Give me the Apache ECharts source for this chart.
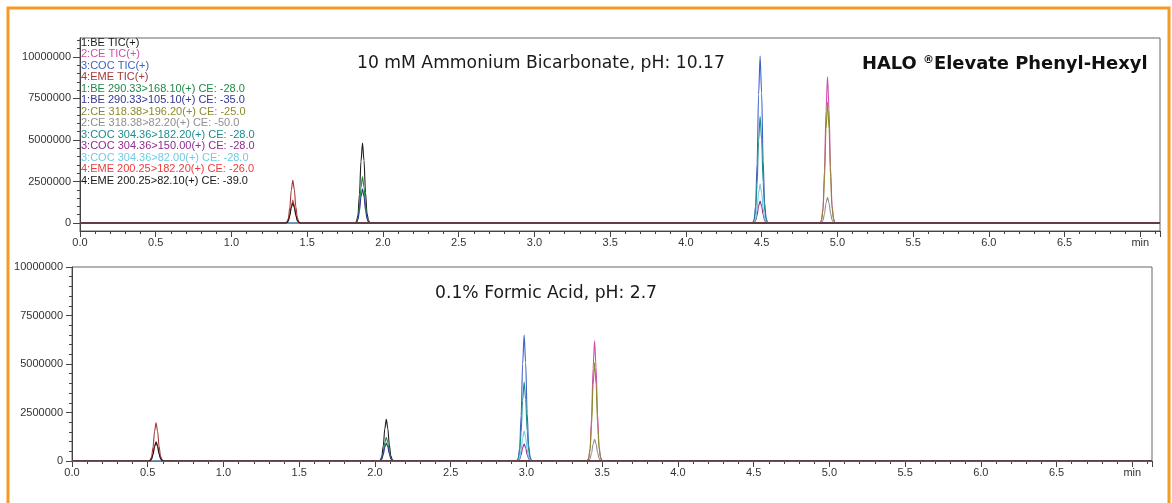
<!DOCTYPE html>
<html>
<head>
<meta charset="utf-8">
<script src="https://cdn.jsdelivr.net/npm/echarts@6.0.0/dist/echarts.min.js"></script>
<style>
  html, body { margin:0; padding:0; background:#fff; }
  #chart { width:1172px; height:503px; }
</style>
</head>
<body>
<div id="chart"></div>
<script>
/* HALO Elevate Phenyl-Hexyl – MRM chromatograms at high and low pH */

// --- trace names (legend order) and line colours
const traceNames = [
  "1:BE TIC(+)", "2:CE TIC(+)", "3:COC TIC(+)", "4:EME TIC(+)",
  "1:BE 290.33>168.10(+) CE: -28.0", "1:BE 290.33>105.10(+) CE: -35.0",
  "2:CE 318.38>196.20(+) CE: -25.0", "2:CE 318.38>82.20(+) CE: -50.0",
  "3:COC 304.36>182.20(+) CE: -28.0", "3:COC 304.36>150.00(+) CE: -28.0",
  "3:COC 304.36>82.00(+) CE: -28.0",
  "4:EME 200.25>182.20(+) CE: -26.0", "4:EME 200.25>82.10(+) CE: -39.0"
];
const traceColors = [
  "#1c1c1c", "#d24fae", "#3e62c8", "#a3393b",
  "#1f8a45", "#34368f", "#8c8a2a", "#8f8f8f",
  "#1d8b8b", "#8e2c91", "#6fcbe6", "#ee3b3b", "#161616"
];
// which compound each trace belongs to (picks its time array)
const traceCompound = ["BE", "CE", "COC", "EME", "BE", "BE", "CE", "CE", "COC", "COC", "COC", "EME", "EME"];

// --- y tick labels
const abMajorTicks = [0, 2500000, 5000000, 7500000, 10000000];
const abMinorTicks = [0, 500000, 1000000, 1500000, 2000000, 2500000, 3000000, 3500000, 4000000,
  4500000, 5000000, 5500000, 6000000, 6500000, 7000000, 7500000, 8000000, 8500000, 9000000,
  9500000, 10000000, 10500000, 11000000];

// ===== 10 mM Ammonium Bicarbonate, pH 10.17 (top) =====
const abTimeBE  = [0, 1.815, 1.825, 1.835, 1.845, 1.855, 1.865, 1.875, 1.885, 1.895, 1.905, 1.915, 7.13];
const abTimeCE  = [0, 4.885, 4.895, 4.905, 4.915, 4.925, 4.935, 4.945, 4.955, 4.965, 4.975, 4.985, 7.13];
const abTimeCOC = [0, 4.440, 4.450, 4.460, 4.470, 4.480, 4.490, 4.500, 4.510, 4.520, 4.530, 4.540, 7.13];
const abTimeEME = [0, 1.355, 1.365, 1.375, 1.385, 1.395, 1.405, 1.415, 1.425, 1.435, 1.445, 1.455, 7.13];

const abBeTic  = [0, 0, 96000, 482000, 1735000, 3711000, 4820000, 3760000, 1832000, 578000, 145000, 0, 0];
const abCeTic  = [0, 0, 176000, 880000, 3168000, 6776000, 8800000, 6864000, 3344000, 1056000, 264000, 0, 0];
const abCocTic = [0, 0, 201000, 1005000, 3618000, 7739000, 10050000, 7839000, 3819000, 1206000, 302000, 0, 0];
const abEmeTic = [0, 0, 52000, 258000, 929000, 1987000, 2580000, 2012000, 980000, 310000, 77000, 0, 0];
const abBe168  = [0, 0, 56000, 278000, 1001000, 2141000, 2780000, 2168000, 1056000, 334000, 83000, 0, 0];
const abBe105  = [0, 0, 41000, 204000, 734000, 1571000, 2040000, 1591000, 775000, 245000, 61000, 0, 0];
const abCe196  = [0, 0, 146000, 730000, 2628000, 5621000, 7300000, 5694000, 2774000, 876000, 219000, 0, 0];
const abCe82   = [0, 0, 31000, 155000, 558000, 1194000, 1550000, 1209000, 589000, 186000, 47000, 0, 0];
const abCoc182 = [0, 0, 128000, 642000, 2311000, 4943000, 6420000, 5008000, 2440000, 770000, 193000, 0, 0];
const abCoc150 = [0, 0, 26000, 132000, 475000, 1016000, 1320000, 1030000, 502000, 158000, 40000, 0, 0];
const abCoc82  = [0, 0, 47000, 234000, 842000, 1802000, 2340000, 1825000, 889000, 281000, 70000, 0, 0];
const abEme182 = [0, 0, 28000, 138000, 497000, 1063000, 1380000, 1076000, 524000, 166000, 41000, 0, 0];
const abEme82  = [0, 0, 24000, 120000, 432000, 924000, 1200000, 936000, 456000, 144000, 36000, 0, 0];

// ===== 0.1% Formic Acid, pH 2.7 (bottom) =====
const faTimeBE  = [0, 2.025, 2.035, 2.045, 2.055, 2.065, 2.075, 2.085, 2.095, 2.105, 2.115, 2.125, 7.13];
const faTimeCE  = [0, 3.400, 3.410, 3.420, 3.430, 3.440, 3.450, 3.460, 3.470, 3.480, 3.490, 3.500, 7.13];
const faTimeCOC = [0, 2.935, 2.945, 2.955, 2.965, 2.975, 2.985, 2.995, 3.005, 3.015, 3.025, 3.035, 7.13];
const faTimeEME = [0, 0.505, 0.515, 0.525, 0.535, 0.545, 0.555, 0.565, 0.575, 0.585, 0.595, 0.605, 7.13];

const faBeTic  = [0, 0, 43000, 215000, 774000, 1656000, 2150000, 1677000, 817000, 258000, 65000, 0, 0];
const faCeTic  = [0, 0, 124000, 620000, 2232000, 4774000, 6200000, 4836000, 2356000, 744000, 186000, 0, 0];
const faCocTic = [0, 0, 130000, 650000, 2340000, 5005000, 6500000, 5070000, 2470000, 780000, 195000, 0, 0];
const faEmeTic = [0, 0, 39000, 197000, 709000, 1517000, 1970000, 1537000, 749000, 236000, 59000, 0, 0];
const faBe168  = [0, 0, 24000, 122000, 439000, 939000, 1220000, 952000, 464000, 146000, 37000, 0, 0];
const faBe105  = [0, 0, 19000, 93000, 335000, 716000, 930000, 725000, 353000, 112000, 28000, 0, 0];
const faCe196  = [0, 0, 101000, 507000, 1825000, 3904000, 5070000, 3955000, 1927000, 608000, 152000, 0, 0];
const faCe82   = [0, 0, 22000, 112000, 403000, 862000, 1120000, 874000, 426000, 134000, 34000, 0, 0];
const faCoc182 = [0, 0, 81000, 407000, 1465000, 3134000, 4070000, 3175000, 1547000, 488000, 122000, 0, 0];
const faCoc150 = [0, 0, 18000, 88000, 317000, 678000, 880000, 686000, 334000, 106000, 26000, 0, 0];
const faCoc82  = [0, 0, 31000, 155000, 558000, 1194000, 1550000, 1209000, 589000, 186000, 47000, 0, 0];
const faEme182 = [0, 0, 20000, 100000, 360000, 770000, 1000000, 780000, 380000, 120000, 30000, 0, 0];
const faEme82  = [0, 0, 19000, 97000, 349000, 747000, 970000, 757000, 369000, 116000, 29000, 0, 0];

const abTimes = { BE: abTimeBE, CE: abTimeCE, COC: abTimeCOC, EME: abTimeEME };
const faTimes = { BE: faTimeBE, CE: faTimeCE, COC: faTimeCOC, EME: faTimeEME };
const abValues = [abBeTic, abCeTic, abCocTic, abEmeTic, abBe168, abBe105, abCe196, abCe82,
  abCoc182, abCoc150, abCoc82, abEme182, abEme82];
const faValues = [faBeTic, faCeTic, faCocTic, faEmeTic, faBe168, faBe105, faCe196, faCe82,
  faCoc182, faCoc150, faCoc82, faEme182, faEme82];

const zip = (t, v) => t.map((x, i) => [x, v[i]]);

const series = [];
traceNames.forEach((name, i) => {
  const base = {
    type: "line", name, showSymbol: false, symbol: "none", silent: true,
    smooth: 0.3, smoothMonotone: "x",
    lineStyle: { width: 1.1, color: traceColors[i] }, itemStyle: { color: traceColors[i] },
    animation: false
  };
  series.push(Object.assign({}, base, {
    xAxisIndex: 0, yAxisIndex: 0, data: zip(abTimes[traceCompound[i]], abValues[i])
  }));
  series.push(Object.assign({}, base, {
    xAxisIndex: 1, yAxisIndex: 2, data: zip(faTimes[traceCompound[i]], faValues[i])
  }));
});

const axisFont = { fontFamily: "Liberation Sans, Arial, sans-serif", fontSize: 11, color: "#333" };
const xLabelFmt = (v) => {
  if (Math.abs(v - 7) < 1e-6) return "min";
  if (Math.abs(v * 2 - Math.round(v * 2)) > 1e-6) return "";
  return v.toFixed(1);
};
const yLabelFmt = (v) => String(Math.round(v));
const xAxisBase = {
  type: "value", min: 0, max: 7.13, interval: 0.5,
  axisLine: { show: true, onZero: false, lineStyle: { color: "#444", width: 1.2 } },
  axisTick: { show: true, length: 6, lineStyle: { color: "#444" } },
  minorTick: { show: true, splitNumber: 5, length: 3, lineStyle: { color: "#444" } },
  axisLabel: Object.assign({ margin: 6, formatter: xLabelFmt, showMaxLabel: false }, axisFont),
  splitLine: { show: false }
};
const titleFont = { fontFamily: "DejaVu Sans", fontSize: 17.2, fontWeight: "normal", color: "#1a1a1a" };

const option = {
  animation: false,
  backgroundColor: "#fff",
  textStyle: { fontFamily: "Liberation Sans, Arial, sans-serif" },
  title: [
    { text: "10 mM Ammonium Bicarbonate, pH: 10.17", left: 352, top: 50, textStyle: titleFont },
    { text: "{a|HALO }{r|®}{a|Elevate Phenyl-Hexyl}", left: 857, top: 50,
      textStyle: { rich: {
        a: { fontFamily: "DejaVu Sans", fontSize: 17.9, fontWeight: "bold", color: "#111" },
        r: { fontFamily: "DejaVu Sans", fontSize: 11, fontWeight: "bold", color: "#111", verticalAlign: "top", padding: [0, 0, 6, 0] }
      } } },
    { text: "0.1% Formic Acid, pH: 2.7", left: 430, top: 280, textStyle: titleFont }
  ],
  legend: {
    show: true, orient: "vertical", left: 76, top: 37, padding: 0,
    icon: "none", itemWidth: 0, itemHeight: 10, itemGap: 0.5, selectedMode: false,
    textStyle: { fontFamily: "Liberation Sans, Arial, sans-serif", fontSize: 11, lineHeight: 10 },
    data: traceNames.map((n, i) => ({ name: n, textStyle: { color: traceColors[i] } }))
  },
  grid: [
    { left: 80, top: 38, width: 1080, height: 193, show: true, borderColor: "#666", borderWidth: 1, backgroundColor: "transparent" },
    { left: 72, top: 267, width: 1080, height: 194, show: true, borderColor: "#666", borderWidth: 1, backgroundColor: "transparent" }
  ],
  xAxis: [
    Object.assign({ gridIndex: 0 }, xAxisBase),
    Object.assign({ gridIndex: 1 }, xAxisBase)
  ],
  yAxis: [
    { gridIndex: 0, type: "value", min: -480000, max: 11140000,
      axisLine: { show: true, lineStyle: { color: "#444" } },
      axisTick: { show: true, length: 7, customValues: abMajorTicks, lineStyle: { color: "#444" } },
      axisLabel: Object.assign({ margin: 9, customValues: abMajorTicks, formatter: yLabelFmt }, axisFont),
      splitLine: { show: false } },
    { gridIndex: 0, type: "value", min: -480000, max: 11140000, position: "left",
      axisLine: { show: false },
      axisTick: { show: true, length: 3, customValues: abMinorTicks, lineStyle: { color: "#444" } },
      axisLabel: { show: false },
      splitLine: { show: false } },
    { gridIndex: 1, type: "value", min: 0, max: 10000000, interval: 2500000,
      axisLine: { show: true, lineStyle: { color: "#444" } },
      axisTick: { show: true, length: 6, lineStyle: { color: "#444" } },
      minorTick: { show: true, splitNumber: 5, length: 3, lineStyle: { color: "#444" } },
      axisLabel: Object.assign({ margin: 9, formatter: yLabelFmt }, axisFont),
      splitLine: { show: false } }
  ],
  graphic: [
    { type: "rect", silent: true, z: 100,
      shape: { x: 8, y: 8, width: 1161, height: 520 },
      style: { fill: "none", stroke: "#f59a23", lineWidth: 3 } }
  ],
  series
};

const chart = echarts.init(document.getElementById("chart"), null, { renderer: "canvas" });
chart.setOption(option);
</script>
</body>
</html>
